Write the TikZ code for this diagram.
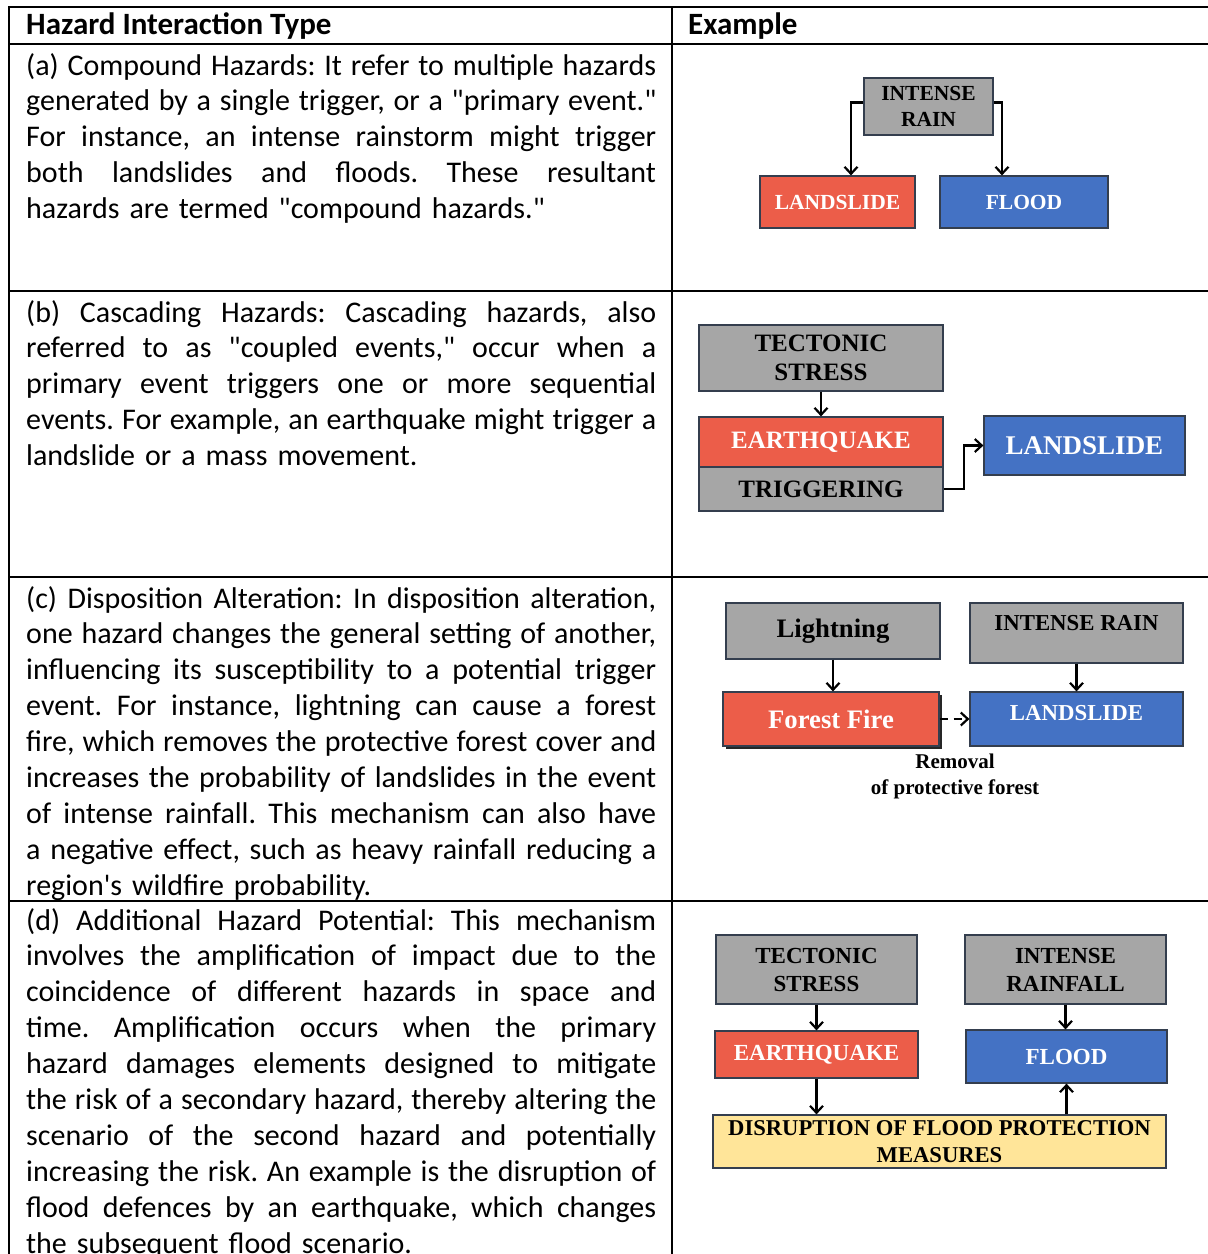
\documentclass[tikz,border=0pt]{standalone}
\usepackage{fontspec}
\setmainfont{Carlito}[Ligatures=TeXOff]
\newfontfamily\diafont{Liberation Serif}
\usetikzlibrary{arrows.meta,shadows,positioning}
\definecolor{hzgray}{RGB}{166,166,166}
\definecolor{hzred}{RGB}{236,93,73}
\definecolor{hzblue}{RGB}{68,114,196}
\definecolor{hzyellow}{RGB}{255,229,153}
\definecolor{boxline}{RGB}{52,62,78}
\frenchspacing
\newcommand{\jline}[1]{\hbox to 630pt{\spaceskip=0.226em plus 1fil minus 0.09em\relax #1}}
\newcommand{\lline}[1]{\hbox{#1}}
\tikzset{
    hazbox/.style={
    rectangle,draw=boxline,line width=1.2pt,inner sep=0pt,align=center
    },
    gbox/.style={
    hazbox,fill=hzgray,text=black
    },
    rbox/.style={
    hazbox,fill=hzred,text=white
    },
    bbox/.style={
    hazbox,fill=hzblue,text=white
    },
    ybox/.style={
    hazbox,fill=hzyellow,text=black
    },
    fonta/.style={font=\diafont\bfseries\fontsize{21.5}{26}\selectfont},
    fontb/.style={font=\diafont\bfseries\fontsize{25}{29}\selectfont},
    fontc/.style={font=\diafont\bfseries\fontsize{22.8}{26}\selectfont},
    fontd/.style={font=\diafont\bfseries\fontsize{23}{28}\selectfont},
    arr/.style={
    -{Straight Barb[length=7pt,width=13pt]},line width=2.2pt,black
    },
    bodytext/.style={
    anchor=base west,inner sep=0pt,text width=630pt,
    font=\fontsize{30}{35.9}\selectfont
    },
    headtext/.style={
    anchor=base west,inner sep=0pt,font=\bfseries\fontsize{31}{35.9}\selectfont
    },
    tline/.style={
    line width=2pt,black
    },
}
\begin{document}
\begin{tikzpicture}[x=1pt, y=-1pt]
  \path[use as bounding box, fill=white] (0,0) rectangle (1208,1254);

  % table rules
  \draw[tline] (8,7) -- (1208,7);
  \draw[tline] (9,6) -- (9,1254);
  \draw[tline] (672,6) -- (672,1254);
  \draw[line width=1.3pt] (9,44) -- (1128,44);
  \draw[tline] (1128,44) -- (1208,44);
  \foreach \y in {291,577,901}
    \draw[tline] (9,\y) -- (1208,\y);

  \node[headtext] (headL) at (26,34) {Hazard Interaction Type};
  \node[headtext] (headR) at (688,34) {Example};

  \node[bodytext] (txtA) at (26,75) {%
    \jline{(a) Compound Hazards: It refer to multiple hazards}
    \jline{generated by a single trigger, or a "primary event."}
    \jline{For instance, an intense rainstorm might trigger}
    \jline{both landslides and floods. These resultant}
    \lline{hazards are termed "compound hazards."}};

  \node[bodytext] (txtB) at (26,322) {%
    \jline{(b) Cascading Hazards: Cascading hazards, also}
    \jline{referred to as "coupled events," occur when a}
    \jline{primary event triggers one or more sequential}
    \jline{events. For example, an earthquake might trigger a}
    \lline{landslide or a mass movement.}};

  \node[bodytext] (txtC) at (26,608) {%
    \jline{(c) Disposition Alteration: In disposition alteration,}
    \jline{one hazard changes the general setting of another,}
    \jline{influencing its susceptibility to a potential trigger}
    \jline{event. For instance, lightning can cause a forest}
    \jline{fire, which removes the protective forest cover and}
    \jline{increases the probability of landslides in the event}
    \jline{of intense rainfall. This mechanism can also have}
    \jline{a negative effect, such as heavy rainfall reducing a}
    \lline{region's wildfire probability.}};

  \node[bodytext] (txtD) at (26,930) {%
    \jline{(d) Additional Hazard Potential: This mechanism}
    \jline{involves the amplification of impact due to the}
    \jline{coincidence of different hazards in space and}
    \jline{time. Amplification occurs when the primary}
    \jline{hazard damages elements designed to mitigate}
    \jline{the risk of a secondary hazard, thereby altering the}
    \jline{scenario of the second hazard and potentially}
    \jline{increasing the risk. An example is the disruption of}
    \jline{flood defences by an earthquake, which changes}
    \lline{the subsequent flood scenario.}};

  % (a) compound
  \node[gbox,fonta,minimum width=129pt,minimum height=57pt] (rainA) at (928.5,106.5) {INTENSE\\RAIN};
  \node[rbox,fonta,minimum width=155pt,minimum height=52pt] (slideA) at (837.5,202) {LANDSLIDE};
  \node[bbox,fonta,minimum width=168pt,minimum height=52pt] (floodA) at (1024,202) {FLOOD};
  \draw[arr] ([yshift=4pt]rainA.west) -| ([xshift=13.5pt]slideA.north);
  \draw[arr] ([yshift=4pt]rainA.east) -| ([xshift=-22pt]floodA.north);

  % (b) cascading
  \node[gbox,fontb,minimum width=244pt,minimum height=66pt] (tectB) at (821,358) {TECTONIC\\STRESS};
  \node[rbox,fontb,minimum width=244pt,minimum height=50pt] (quakeB) at (821,442) {EARTHQUAKE};
  \node[gbox,fontb,minimum width=244pt,minimum height=44pt] (trigB) at (821,489) {TRIGGERING};
  \node[bbox,fontb,font=\diafont\bfseries\fontsize{27}{30}\selectfont,
        minimum width=201pt,minimum height=59pt] (slideB) at (1084.5,445.5) {LANDSLIDE};
  \draw[arr] (tectB.south) -- (quakeB.north);
  \draw[arr] (trigB.east) -- ++(20,0) |- (slideB.west);

  % (c) disposition alteration
  \node[gbox,font=\diafont\bfseries\fontsize{26.7}{30}\selectfont,
        minimum width=214pt,minimum height=56pt] (lightC) at (833,631) {Lightning};
  \node[gbox,fontc,text height=16pt,text depth=21pt,
        minimum width=213pt,minimum height=60pt] (rainC) at (1076.5,633) {INTENSE RAIN};
  \node[rbox,font=\diafont\bfseries\fontsize{26.7}{30}\selectfont,
        minimum width=216pt,minimum height=54pt,
        drop shadow={shadow xshift=3pt,shadow yshift=-3pt,fill=black!85,opacity=1}] (fireC) at (831,719) {Forest Fire};
  \node[bbox,fontc,text height=16pt,text depth=13pt,
        minimum width=213pt,minimum height=54pt] (slideC) at (1076.5,719) {LANDSLIDE};
  \node[align=center,inner sep=0pt,font=\diafont\bfseries\fontsize{21}{26}\selectfont] (remC) at (955,776) {Removal\\of protective forest};
  \draw[arr] (lightC.south) -- (lightC.south |- fireC.north);
  \draw[arr] (rainC.south) -- (rainC.south |- slideC.north);
  \draw[arr,dash pattern=on 8pt off 6pt] (fireC.east) -- (slideC.west);

  % (d) additional hazard potential
  \node[gbox,fontd,minimum width=201pt,minimum height=69pt] (tectD) at (816.5,969.5) {TECTONIC\\STRESS};
  \node[gbox,fontd,minimum width=201pt,minimum height=69pt] (rainD) at (1065.5,969.5) {INTENSE\\RAINFALL};
  \node[rbox,fontd,minimum width=203pt,minimum height=47pt] (quakeD) at (816.5,1054.5) {EARTHQUAKE};
  \node[bbox,fontd,minimum width=201pt,minimum height=53pt] (floodD) at (1066.5,1056.5) {FLOOD};
  \node[ybox,font=\diafont\bfseries\fontsize{22.6}{27}\selectfont,
        minimum width=453pt,minimum height=53pt] (disD) at (939.5,1141.5) {DISRUPTION OF FLOOD PROTECTION\\MEASURES};
  \draw[arr] (tectD.south) -- (tectD.south |- quakeD.north);
  \draw[arr] (rainD.south) -- (rainD.south |- floodD.north);
  \draw[arr] (quakeD.south) -- (quakeD.south |- disD.north);
  \draw[arr] (floodD.south |- disD.north) -- (floodD.south);
\end{tikzpicture}
\end{document}
